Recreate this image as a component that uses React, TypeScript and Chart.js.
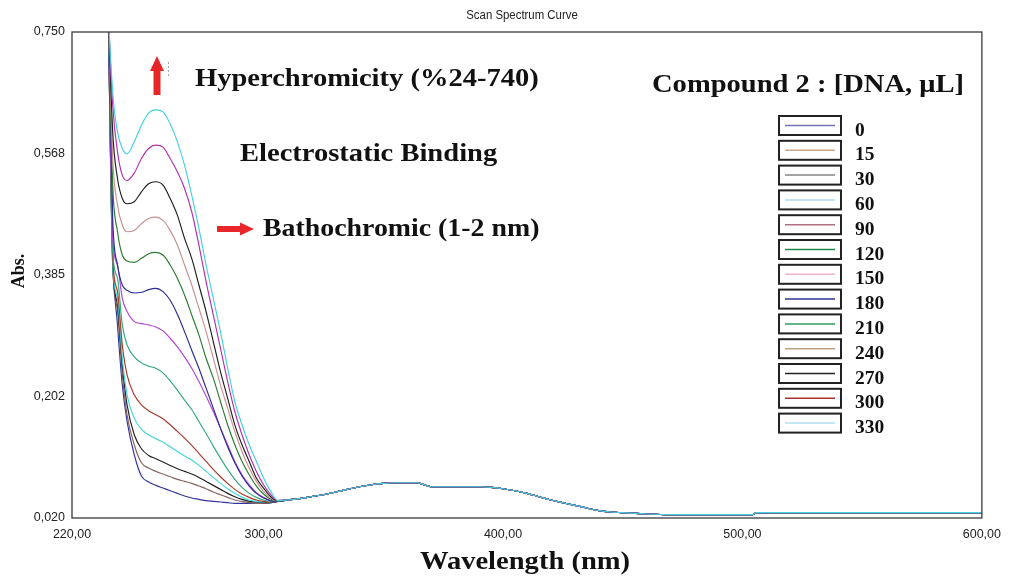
import React, { useEffect, useRef } from "react";
import { Chart, registerables } from "chart.js";

Chart.register(...registerables);

// Wavelengths (nm) of the UV part where the curves differ
const wavelengthsUV = [232, 235, 237, 239, 241, 243, 246, 249, 252, 255, 258, 261, 264, 267, 270, 273, 276, 279, 282, 285, 288, 291, 294, 297, 300, 303, 306];

// Absorbance per DNA volume (µL)
const abs0 = [1.2, 0.8, 0.42, 0.31, 0.22, 0.165, 0.115, 0.083, 0.074, 0.069, 0.065, 0.061, 0.057, 0.053, 0.05, 0.048, 0.046, 0.045, 0.044, 0.043, 0.042, 0.042, 0.042, 0.042, 0.042, 0.043, 0.045];
const abs15 = [1.2, 0.8, 0.4, 0.33, 0.235, 0.175, 0.13, 0.103, 0.095, 0.09, 0.086, 0.082, 0.078, 0.075, 0.072, 0.068, 0.064, 0.059, 0.055, 0.051, 0.047, 0.045, 0.043, 0.042, 0.042, 0.043, 0.045];
const abs30 = [1.2, 0.8, 0.4, 0.34, 0.25, 0.19, 0.145, 0.124, 0.114, 0.109, 0.104, 0.099, 0.094, 0.09, 0.086, 0.081, 0.075, 0.069, 0.063, 0.057, 0.052, 0.048, 0.045, 0.044, 0.043, 0.043, 0.045];
const abs60 = [1.2, 0.8, 0.4, 0.35, 0.26, 0.205, 0.17, 0.153, 0.145, 0.139, 0.134, 0.127, 0.12, 0.113, 0.107, 0.099, 0.09, 0.081, 0.072, 0.064, 0.057, 0.051, 0.047, 0.045, 0.044, 0.044, 0.045];
const abs90 = [1.2, 0.8, 0.41, 0.36, 0.28, 0.235, 0.205, 0.19, 0.181, 0.175, 0.169, 0.16, 0.15, 0.14, 0.129, 0.117, 0.105, 0.093, 0.082, 0.072, 0.063, 0.056, 0.051, 0.047, 0.045, 0.044, 0.045];
const abs120 = [1.2, 0.8, 0.42, 0.38, 0.31, 0.28, 0.262, 0.253, 0.248, 0.245, 0.238, 0.226, 0.212, 0.197, 0.183, 0.165, 0.147, 0.128, 0.11, 0.093, 0.078, 0.066, 0.057, 0.051, 0.047, 0.045, 0.045];
const abs150 = [1.2, 0.8, 0.44, 0.4, 0.35, 0.33, 0.315, 0.312, 0.31, 0.307, 0.301, 0.29, 0.277, 0.262, 0.245, 0.225, 0.203, 0.18, 0.155, 0.13, 0.105, 0.085, 0.07, 0.058, 0.051, 0.046, 0.045];
const abs180 = [1.2, 0.8, 0.47, 0.4, 0.37, 0.362, 0.358, 0.359, 0.363, 0.365, 0.36, 0.347, 0.326, 0.3, 0.272, 0.245, 0.215, 0.185, 0.155, 0.127, 0.103, 0.083, 0.068, 0.057, 0.05, 0.046, 0.045];
const abs210 = [1.2, 0.8, 0.52, 0.45, 0.415, 0.406, 0.404, 0.41, 0.417, 0.419, 0.415, 0.4, 0.38, 0.355, 0.325, 0.295, 0.26, 0.23, 0.195, 0.16, 0.13, 0.105, 0.085, 0.068, 0.056, 0.048, 0.045];
const abs240 = [1.2, 0.8, 0.56, 0.49, 0.46, 0.45, 0.452, 0.462, 0.47, 0.472, 0.467, 0.452, 0.43, 0.4, 0.37, 0.335, 0.3, 0.26, 0.22, 0.185, 0.15, 0.12, 0.095, 0.075, 0.06, 0.05, 0.046];
const abs270 = [1.2, 0.8, 0.6, 0.53, 0.5, 0.492, 0.495, 0.51, 0.522, 0.525, 0.52, 0.5, 0.475, 0.44, 0.41, 0.37, 0.33, 0.285, 0.24, 0.2, 0.16, 0.13, 0.105, 0.08, 0.065, 0.052, 0.046];
const abs300 = [1.2, 0.8, 0.64, 0.57, 0.535, 0.527, 0.538, 0.56, 0.575, 0.58, 0.577, 0.56, 0.54, 0.515, 0.48, 0.43, 0.375, 0.325, 0.275, 0.225, 0.18, 0.145, 0.115, 0.09, 0.07, 0.055, 0.046];
const abs330 = [1.2, 0.8, 0.66, 0.6, 0.575, 0.567, 0.585, 0.61, 0.628, 0.633, 0.63, 0.612, 0.585, 0.55, 0.505, 0.455, 0.4, 0.35, 0.3, 0.245, 0.195, 0.16, 0.13, 0.105, 0.08, 0.06, 0.046];

// Shared visible-region part (all curves coincide)
const wavelengthsVis = [310, 315, 320, 325, 330, 335, 340, 345, 350, 355, 360, 364, 367, 370, 375, 380, 390, 395, 400, 405, 410, 415, 420, 425, 430, 435, 440, 445, 450, 460, 470, 480, 490, 500, 504, 506, 520, 540, 560, 580, 600];
const absVis = [0.047, 0.049, 0.052, 0.055, 0.059, 0.063, 0.067, 0.07, 0.072, 0.073, 0.073, 0.073, 0.07, 0.067, 0.067, 0.067, 0.067, 0.066, 0.064, 0.061, 0.057, 0.052, 0.047, 0.043, 0.039, 0.035, 0.031, 0.029, 0.028, 0.026, 0.025, 0.025, 0.025, 0.025, 0.025, 0.028, 0.028, 0.028, 0.028, 0.028, 0.028];

const seriesLabels = ["0", "15", "30", "60", "90", "120", "150", "180", "210", "240", "270", "300", "330"];
const seriesValues = [abs0, abs15, abs30, abs60, abs90, abs120, abs150, abs180, abs210, abs240, abs270, abs300, abs330];
const seriesColors = ["#33339a", "#866464", "#222222", "#3fd6d8", "#a83828", "#30a878", "#b044d8", "#2a2a92", "#2a7a30", "#c89090", "#1e1e1e", "#b030b0", "#45cfe0"];
const legendColors = ["#7474b4", "#caa88e", "#858585", "#a8dcec", "#b07080", "#208a48", "#f0b0d0", "#303094", "#30a060", "#c0a080", "#222222", "#a83030", "#b0e0f0"];

const xTickValues = [220, 300, 400, 500, 600];
const xTickLabels = ["220,00", "300,00", "400,00", "500,00", "600,00"];
const yTickValues = [0.02, 0.2025, 0.385, 0.5675, 0.75];
const yTickLabels = ["0,020", "0,202", "0,385", "0,568", "0,750"];

const W = 1010;
const H = 580;
const AREA_LEFT = 72;
const AREA_RIGHT = 988;
const AREA_TOP = 32;
const AREA_BOTTOM = 518;
const SERIF_BOLD = "bold 25px 'Liberation Serif', serif";

function stretchedText(ctx: any, text: string, x: number, y: number, font: string, sx: number, align: string) {
  ctx.save();
  ctx.translate(x, y);
  ctx.scale(sx, 1);
  ctx.font = font;
  ctx.textAlign = align;
  ctx.textBaseline = "middle";
  ctx.fillText(text, 0, 0);
  ctx.restore();
}

const overlayPlugin = {
  id: "overlay",
  afterDraw(chart: any) {
    const ctx = chart.ctx;
    const a = chart.chartArea;
    ctx.save();
    // frame
    ctx.strokeStyle = "#3a3a3a";
    ctx.lineWidth = 1.3;
    ctx.strokeRect(a.left, a.top, a.right - a.left, a.bottom - a.top);

    // title
    ctx.fillStyle = "#222";
    stretchedText(ctx, "Scan Spectrum Curve", 522, 16, "12px 'Liberation Sans', Arial, sans-serif", 0.95, "center");

    // axis titles
    ctx.fillStyle = "#111";
    stretchedText(ctx, "Wavelength (nm)", 525, 563, SERIF_BOLD, 1.142, "center");
    ctx.save();
    ctx.translate(19, 271);
    ctx.rotate(-Math.PI / 2);
    ctx.font = "bold 18px 'Liberation Serif', serif";
    ctx.textAlign = "center";
    ctx.textBaseline = "middle";
    ctx.fillText("Abs.", 0, 0);
    ctx.restore();

    // annotations
    stretchedText(ctx, "Hyperchromicity (%24-740)", 195, 80, SERIF_BOLD, 1.142, "left");
    stretchedText(ctx, "Electrostatic Binding", 240, 155, SERIF_BOLD, 1.142, "left");
    stretchedText(ctx, "Bathochromic (1-2 nm)", 263, 230, SERIF_BOLD, 1.114, "left");
    stretchedText(ctx, "Compound 2 : [DNA, \u03bcL]", 652, 86, SERIF_BOLD, 1.142, "left");

    // red arrows
    ctx.fillStyle = "#e8262a";
    ctx.beginPath();
    ctx.moveTo(157, 56);
    ctx.lineTo(164, 71);
    ctx.lineTo(160.5, 71);
    ctx.lineTo(160.5, 95);
    ctx.lineTo(153.5, 95);
    ctx.lineTo(153.5, 71);
    ctx.lineTo(150, 71);
    ctx.closePath();
    ctx.fill();
    ctx.beginPath();
    ctx.moveTo(254, 229);
    ctx.lineTo(240, 222.5);
    ctx.lineTo(240, 226);
    ctx.lineTo(217, 226);
    ctx.lineTo(217, 232);
    ctx.lineTo(240, 232);
    ctx.lineTo(240, 235.5);
    ctx.closePath();
    ctx.fill();
    // faint mark beside the up arrow
    ctx.strokeStyle = "#aaaaaa";
    ctx.lineWidth = 1;
    ctx.setLineDash([2, 2]);
    ctx.beginPath();
    ctx.moveTo(168.5, 62);
    ctx.lineTo(168.5, 78);
    ctx.stroke();
    ctx.setLineDash([]);

    // legend
    const ds = chart.data.datasets;
    for (let i = 0; i < ds.length; i++) {
      const top = 116 + i * 24.8;
      ctx.strokeStyle = "#222";
      ctx.lineWidth = 2;
      ctx.strokeRect(779, top, 62, 19);
      ctx.strokeStyle = legendColors[i];
      ctx.lineWidth = 1.5;
      ctx.beginPath();
      ctx.moveTo(785, top + 9.5);
      ctx.lineTo(835, top + 9.5);
      ctx.stroke();
      ctx.fillStyle = "#111";
      stretchedText(ctx, ds[i].label, 855, top + 15, "bold 18px 'Liberation Serif', serif", 1.08, "left");
    }
    ctx.restore();
  },
};

export default function App() {
  const ref = useRef<HTMLCanvasElement | null>(null);
  useEffect(() => {
    if (!ref.current) return;
    const datasets = seriesValues.map((vals, i) => ({
      label: seriesLabels[i],
      data: wavelengthsUV
        .map((x, j) => ({ x, y: vals[j] }))
        .concat(wavelengthsVis.map((x, j) => ({ x, y: absVis[j] }))),
      borderColor: seriesColors[i],
      borderWidth: 1.15,
      pointRadius: 0,
      fill: false,
      order: seriesValues.length - i,
      cubicInterpolationMode: "monotone" as const,
    }));
    const chart = new Chart(ref.current, {
      type: "line",
      data: { datasets },
      options: {
        animation: false,
        responsive: false,
        layout: { padding: { left: 0, right: W - AREA_RIGHT, top: AREA_TOP, bottom: 0 } },
        plugins: { legend: { display: false }, tooltip: { enabled: false }, title: { display: false } },
        scales: {
          x: {
            type: "linear",
            min: 220,
            max: 600,
            grid: { display: false, drawTicks: false },
            border: { display: false },
            afterBuildTicks: (s: any) => {
              s.ticks = xTickValues.map((v) => ({ value: v }));
            },
            afterFit: (s: any) => {
              s.height = H - AREA_BOTTOM;
            },
            ticks: {
              autoSkip: false,
              maxRotation: 0,
              padding: 9,
              color: "#222",
              font: { family: "'Liberation Sans', Arial, sans-serif", size: 12.5 },
              callback: (v: any) => xTickLabels[xTickValues.indexOf(Number(v))] ?? "",
            },
          },
          y: {
            type: "linear",
            min: 0.02,
            max: 0.75,
            grid: { display: false, drawTicks: false },
            border: { display: false },
            afterBuildTicks: (s: any) => {
              s.ticks = yTickValues.map((v) => ({ value: v }));
            },
            afterFit: (s: any) => {
              s.width = AREA_LEFT;
            },
            ticks: {
              autoSkip: false,
              padding: 7,
              color: "#222",
              font: { family: "'Liberation Sans', Arial, sans-serif", size: 12.5 },
              callback: (v: any) => {
                const idx = yTickValues.findIndex((t) => Math.abs(t - Number(v)) < 1e-6);
                return idx >= 0 ? yTickLabels[idx] : "";
              },
            },
          },
        },
      },
      plugins: [overlayPlugin],
    });
    return () => chart.destroy();
  }, []);
  return (
    <div style={{ position: "absolute", left: 0, top: 0, width: W, height: H, background: "#fff" }}>
      <canvas ref={ref} width={W} height={H} />
    </div>
  );
}
